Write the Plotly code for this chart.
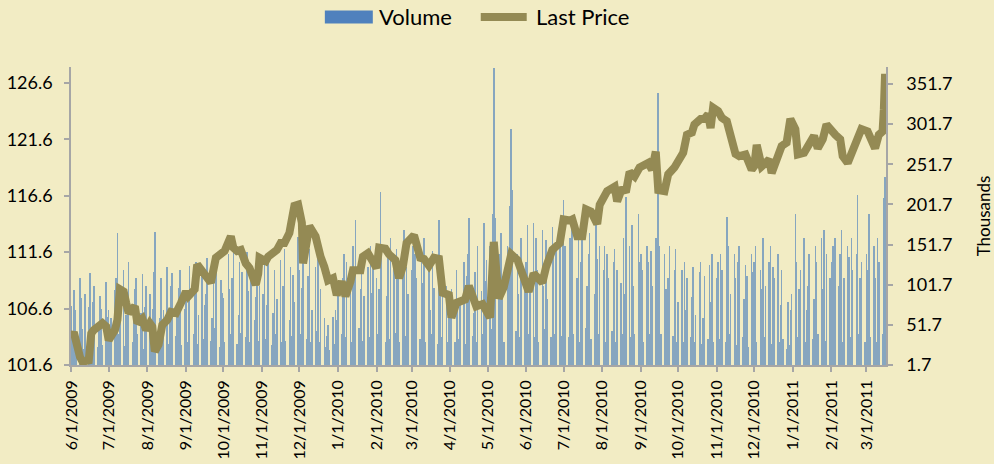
import pandas as pd
import plotly.graph_objects as go

# ---------------- data ----------------
price_dates = [
    "2009-06-01","2009-06-03","2009-06-08","2009-06-10","2009-06-15","2009-06-17","2009-06-19","2009-06-23","2009-06-26","2009-06-29",
    "2009-07-01","2009-07-06","2009-07-08","2009-07-10","2009-07-13","2009-07-15","2009-07-17","2009-07-22","2009-07-24","2009-07-28","2009-07-31",
    "2009-08-03","2009-08-05","2009-08-07","2009-08-10","2009-08-13","2009-08-17","2009-08-20","2009-08-24","2009-08-28",
    "2009-09-01","2009-09-03","2009-09-08","2009-09-10","2009-09-14","2009-09-17","2009-09-21","2009-09-25","2009-09-29",
    "2009-10-02","2009-10-07","2009-10-09","2009-10-12","2009-10-15","2009-10-19","2009-10-22","2009-10-27","2009-10-29","2009-10-30",
    "2009-11-04","2009-11-06","2009-11-10","2009-11-13","2009-11-16","2009-11-19","2009-11-23","2009-11-25","2009-11-27","2009-11-30",
    "2009-12-03","2009-12-04","2009-12-07","2009-12-09","2009-12-14","2009-12-15","2009-12-18","2009-12-21","2009-12-24","2009-12-28","2009-12-31",
    "2010-01-04","2010-01-07","2010-01-11","2010-01-13","2010-01-19","2010-01-21","2010-01-25","2010-01-29",
    "2010-02-01","2010-02-03","2010-02-08","2010-02-11","2010-02-16","2010-02-19","2010-02-22","2010-02-25",
    "2010-03-03","2010-03-08","2010-03-11","2010-03-15","2010-03-19","2010-03-23","2010-03-26","2010-03-31",
    "2010-04-02","2010-04-06","2010-04-13","2010-04-16","2010-04-22","2010-04-27",
    "2010-05-03","2010-05-06","2010-05-10","2010-05-14","2010-05-20","2010-05-25","2010-05-28",
    "2010-06-03","2010-06-07","2010-06-14","2010-06-17","2010-06-22","2010-06-28",
    "2010-07-01","2010-07-06","2010-07-08","2010-07-12","2010-07-16","2010-07-19","2010-07-23","2010-07-28","2010-07-30",
    "2010-08-05","2010-08-11","2010-08-13","2010-08-17","2010-08-20","2010-08-23","2010-08-27","2010-08-31",
    "2010-09-07","2010-09-10","2010-09-13","2010-09-15","2010-09-20","2010-09-23","2010-09-28",
    "2010-10-04","2010-10-05","2010-10-08","2010-10-12","2010-10-14","2010-10-19","2010-10-22","2010-10-25","2010-10-27","2010-10-29",
    "2010-11-02","2010-11-05","2010-11-09","2010-11-12","2010-11-16","2010-11-19","2010-11-24","2010-11-29",
    "2010-12-01","2010-12-03","2010-12-07","2010-12-10","2010-12-13","2010-12-15","2010-12-20","2010-12-23","2010-12-27","2010-12-30",
    "2011-01-03","2011-01-05","2011-01-10","2011-01-13","2011-01-18","2011-01-21","2011-01-25","2011-01-28",
    "2011-02-01","2011-02-04","2011-02-08","2011-02-10","2011-02-14","2011-02-18","2011-02-22","2011-02-25",
    "2011-03-02","2011-03-04","2011-03-08","2011-03-11","2011-03-14","2011-03-15","2011-03-16",
]
last_price = [
    104.1,104.5,102.3,101.9,102.0,104.4,104.7,105.0,105.3,105.0,
    103.8,104.7,105.6,108.3,108.1,107.1,106.2,106.8,105.3,105.7,104.7,
    105.3,105.0,102.8,103.4,105.15,105.6,106.3,106.2,107.1,
    108.1,107.7,108.3,110.5,109.9,109.6,108.9,111.1,111.5,
    111.7,113.0,112.0,111.7,111.8,110.6,110.2,108.7,109.7,111.1,
    110.8,111.2,111.5,111.8,112.4,112.4,113.3,114.8,115.7,115.8,
    114.2,110.6,112.1,113.9,113.0,112.4,111.2,110.3,109.1,109.3,107.8,
    109.0,107.7,109.0,110.0,110.0,111.2,111.5,110.9,
    110.2,112.0,111.9,111.4,110.9,109.3,110.3,112.4,
    113.1,111.1,111.0,110.4,111.1,111.0,108.0,107.8,
    105.8,107.1,107.4,108.6,106.8,107.0,
    105.8,112.5,107.5,108.5,111.4,110.9,109.9,
    108.1,109.7,108.9,110.3,111.8,112.4,
    114.5,114.4,114.5,113.0,113.0,115.4,115.2,114.1,115.8,
    117.0,117.4,116.1,117.3,116.9,118.7,118.3,119.1,
    119.5,118.9,120.5,117.1,117.0,118.5,119.1,
    120.1,120.4,122.0,122.2,122.9,123.4,123.4,123.8,122.6,124.4,
    124.1,123.5,123.2,121.7,120.3,120.1,120.25,118.9,
    119.2,121.1,119.2,119.5,119.8,118.6,120.1,121.0,121.3,123.4,
    122.5,120.25,120.4,121.0,121.9,120.8,121.6,122.9,
    122.3,122.0,121.6,120.1,119.5,120.7,121.9,122.5,
    122.3,121.9,120.8,122.0,122.3,124.2,127.4,
]

# daily volume (thousands), one value per weekday
volume_2009 = [
    # Jun
    75,32,95,70,28,110,85,46,22,90,74,116,38,80,100,24,45,88,72,26,105,62,
    # Jul
    70,35,60,95,110,166,40,75,120,25,64,88,130,30,58,96,110,40,66,115,22,74,100,
    # Aug
    90,25,72,118,167,44,60,110,30,70,124,28,56,100,116,38,64,98,120,26,72,
    # Sep
    95,30,80,125,40,100,130,28,64,118,34,76,90,135,32,60,112,48,126,24,108,92,
    # Oct
    85,30,140,96,40,110,150,28,64,130,42,118,36,142,94,30,124,58,86,136,32,100,
    # Nov
    90,128,34,76,138,26,66,120,40,84,132,30,100,146,32,58,124,38,114,80,161,
    # Dec
    120,40,98,130,34,112,146,30,70,124,44,136,30,96,60,24,38,52,20,62,28,70,58,
]
volume_2010 = [
    # Jan
    95,40,110,140,36,130,100,30,150,118,182,48,96,140,32,88,124,36,150,92,134,
    # Feb
    110,40,96,217,150,30,88,138,34,160,126,42,146,114,30,132,170,38,124,90,
    # Mar
    120,150,36,140,110,34,130,104,160,30,124,70,40,144,98,28,182,136,36,120,100,30,92,
    # Apr
    70,96,30,120,84,34,76,130,28,112,140,185,38,66,118,30,150,94,40,179,106,132,
    # May
    150,46,190,372,185,140,40,166,98,30,150,112,200,296,220,44,140,90,36,160,110,
    # Jun
    130,176,40,110,178,36,160,120,30,170,100,46,158,84,36,174,140,40,150,168,38,180,
    # Jul
    207,150,36,160,96,176,40,110,170,30,130,158,48,100,140,166,34,90,176,134,40,150,
    # Aug
    120,150,30,140,110,44,130,146,30,120,104,40,160,90,211,150,36,176,100,40,190,130,
    # Sep
    140,120,30,150,130,40,144,100,160,34,340,150,40,140,96,30,110,150,38,120,146,30,
    # Oct
    80,120,30,130,70,110,36,86,124,30,64,118,130,28,60,112,34,126,80,140,30,
    # Nov
    110,130,34,140,120,30,186,150,40,90,140,110,26,130,150,36,84,126,112,24,140,118,
    # Dec
    130,150,30,120,96,160,36,100,130,150,28,124,110,140,30,76,120,34,22,80,26,70,90,
]
volume_2011 = [
    # Jan
    190,130,36,96,120,160,30,70,100,140,34,84,150,130,40,160,96,170,32,140,110,
    # Feb
    130,150,34,160,100,140,170,30,110,150,136,36,160,120,140,213,40,110,130,30,
    # Mar
    140,120,190,36,150,110,30,160,130,40,210,236,
]

volume_dates = pd.bdate_range("2009-06-01", "2011-03-16")
volume = volume_2009 + volume_2010 + volume_2011

BG = "#F2ECC4"
AXIS = "#A6A6A6"
FONT = "Lato"

fig = go.Figure()
fig.add_trace(go.Bar(
    x=volume_dates, y=volume, name="Volume", yaxis="y",
    marker=dict(color="#4F81BD", line=dict(width=0)),
    opacity=0.65, width=0.45 * 86400000, showlegend=False,
))
fig.add_trace(go.Scatter(
    x=price_dates, y=last_price, name="Last Price", yaxis="y2", mode="lines",
    line=dict(color="#948A54", width=8), showlegend=False,
))

# legend drawn manually (wide swatches like the original)
def px_x(p):
    return (p - 71) / 815.5

def px_y(p):
    return (365 - p) / 298.0

fig.add_shape(type="rect", xref="paper", yref="paper",
              x0=px_x(325), x1=px_x(373), y0=px_y(23.5), y1=px_y(10.5),
              fillcolor="#4F81BD", line=dict(width=0))
fig.add_shape(type="line", xref="paper", yref="paper",
              x0=px_x(481), x1=px_x(527), y0=px_y(17), y1=px_y(17),
              line=dict(color="#948A54", width=8))
fig.add_annotation(text="Volume", xref="paper", yref="paper", x=px_x(377), y=px_y(17),
                   xanchor="left", yanchor="middle", showarrow=False,
                   font=dict(family=FONT, size=22, color="#000000"))
fig.add_annotation(text="Last Price", xref="paper", yref="paper", x=px_x(534), y=px_y(17),
                   xanchor="left", yanchor="middle", showarrow=False,
                   font=dict(family=FONT, size=22, color="#000000"))

fig.update_layout(
    width=994, height=464, autosize=False,
    margin=dict(l=71, r=107.5, t=67, b=99, pad=0),
    paper_bgcolor=BG, plot_bgcolor=BG,
    font=dict(family=FONT, size=18, color="#000000"),
    bargap=0,
    xaxis=dict(
        type="date", range=["2009-05-31 18:00", "2011-03-16 18:00"],
        tick0="2009-06-01", dtick="M1", tickformat="%-m/%-d/%Y", tickangle=-90,
        ticks="outside", ticklen=5, tickcolor=AXIS, tickwidth=1.5,
        showline=True, linecolor=AXIS, linewidth=1.5, showgrid=False, zeroline=False,
        tickfont=dict(family=FONT, size=16), ticklabelstandoff=2, automargin=False,
    ),
    yaxis=dict(
        side="right", range=[1.7, 372.9], tick0=1.7, dtick=50, tickformat=".1f",
        ticks="outside", ticklen=5, tickcolor=AXIS, tickwidth=1.5,
        showline=True, linecolor=AXIS, linewidth=1.5, showgrid=False, zeroline=False,
        tickfont=dict(family=FONT, size=18), ticklabelstandoff=10, automargin=False,
        title=dict(text="Thousands", font=dict(family=FONT, size=17), standoff=30),
    ),
    yaxis2=dict(
        side="left", overlaying="y", range=[101.6, 128.0], tick0=101.6, dtick=5, tickformat=".1f",
        ticks="outside", ticklen=5, tickcolor=AXIS, tickwidth=1.5,
        showline=True, linecolor=AXIS, linewidth=1.5, showgrid=False, zeroline=False,
        tickfont=dict(family=FONT, size=18), ticklabelstandoff=8, automargin=False,
    ),
)

fig.write_html(
    "out.html",
    config={"displayModeBar": False},
    post_script="document.body.style.margin='0';document.body.style.background='" + BG + "';",
)
